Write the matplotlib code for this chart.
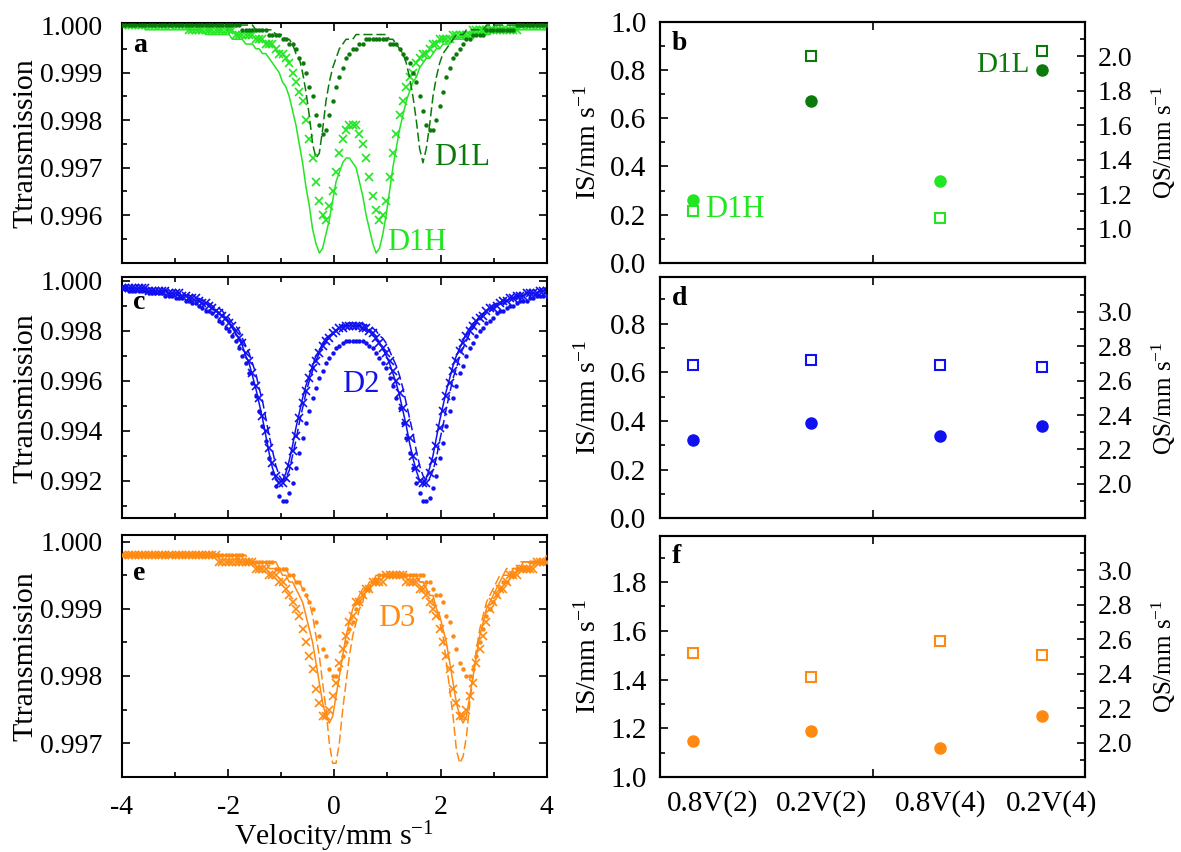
import numpy as np
import matplotlib
matplotlib.use("Agg")
import matplotlib.pyplot as plt
from matplotlib.ticker import FixedLocator, MultipleLocator, FormatStrFormatter

plt.rcParams["font.family"] = ["Liberation Serif", "DejaVu Serif"]
plt.rcParams["mathtext.fontset"] = "custom"
plt.rcParams["mathtext.rm"] = "Liberation Serif"
plt.rcParams["mathtext.it"] = "Liberation Serif:italic"
plt.rcParams["mathtext.bf"] = "Liberation Serif:bold"
plt.rcParams["axes.unicode_minus"] = False

# ---------------------------------------------------------------- data
samples = ["0.8V(2)", "0.2V(2)", "0.8V(4)", "0.2V(4)"]

# hyperfine parameters of the doublets (mm/s)
is_d1h = [0.26, np.nan, 0.34, np.nan]
qs_d1h = [1.10, np.nan, 1.06, np.nan]
is_d1l = [np.nan, 0.67, np.nan, 0.80]
qs_d1l = [np.nan, 2.00, np.nan, 2.03]
is_d2 = [0.32, 0.39, 0.34, 0.38]
qs_d2 = [2.69, 2.72, 2.69, 2.68]
is_d3 = [1.15, 1.19, 1.12, 1.25]
qs_d3 = [2.52, 2.38, 2.59, 2.51]

# line half-widths (mm/s), absorption depths and baselines of the fitted subspectra
hwhm_d1 = [0.38, 0.20, 0.33, 0.29]
depth_d1 = [0.00435, 0.00288, 0.00378, 0.00225]
hwhm_d2 = [0.48, 0.47, 0.48, 0.54]
depth_d2 = [0.00785, 0.00780, 0.00790, 0.00850]
hwhm_d3 = [0.32, 0.27, 0.38, 0.38]
depth_d3 = [0.00251, 0.00313, 0.00240, 0.00181]
baseline = {"D1": 1.00004, "D2": 1.0, "D3": 0.99985}

# velocity channels of the spectrometer (mm/s)
velocity = np.linspace(-4.0, 4.0, 128)

# ---------------------------------------------------------------- style
C_LIGHT = "#22E622"
C_DARK = "#0B7A0B"
C_BLUE = "#1010F0"
C_ORANGE = "#FF8A12"

series_style = [
    dict(ls="-", lw=1.1, marker=None),                    # 0.8V(2)
    dict(ls=(0, (6, 2.5)), lw=1.1, marker=None),          # 0.2V(2)
    dict(ls="none", marker="x", ms=5.2, mew=1.2),         # 0.8V(4)
    dict(ls="none", marker="o", ms=3.2, mew=0),           # 0.2V(4)
]

cat_x = [0.076, 0.354, 0.659, 0.898]      # marker positions (axes units)
label_x = [0.122, 0.379, 0.659, 0.920]    # category label centres


def doublet(v, cs, qs, hw, depth, base):
    """Transmission of a Lorentzian quadrupole doublet, recorded to 4 decimals."""
    absorb = np.zeros_like(v)
    for centre in (cs - qs / 2.0, cs + qs / 2.0):
        absorb += hw ** 2 / ((v - centre) ** 2 + hw ** 2)
    return np.round(base - depth * absorb, 4)


fig = plt.figure(figsize=(11.81, 8.52), dpi=100)

left_boxes = [[0.1033, 0.6913, 0.3596, 0.2821],
              [0.1033, 0.3920, 0.3596, 0.2825],
              [0.1033, 0.0884, 0.3596, 0.2837]]
right_boxes = [[0.5592, 0.6913, 0.3597, 0.2832],
               [0.5592, 0.3917, 0.3597, 0.2828],
               [0.5592, 0.0877, 0.3597, 0.2835]]

# ---------------------------------------------------------------- spectra
is_d1 = np.where(np.isnan(is_d1h), is_d1l, is_d1h)
qs_d1 = np.where(np.isnan(qs_d1h), qs_d1l, qs_d1h)

spectra = [
    ("D1", is_d1, qs_d1, hwhm_d1, depth_d1, [C_LIGHT, C_DARK, C_LIGHT, C_DARK]),
    ("D2", is_d2, qs_d2, hwhm_d2, depth_d2, [C_BLUE] * 4),
    ("D3", is_d3, qs_d3, hwhm_d3, depth_d3, [C_ORANGE] * 4),
]
ylims = [(0.99499, 1.00005), (0.9905, 1.00014), (0.9965, 1.0001)]
ymajor = [[0.996, 0.997, 0.998, 0.999, 1.000],
          [0.992, 0.994, 0.996, 0.998, 1.000],
          [0.997, 0.998, 0.999, 1.000]]
yminor = [0.0005, 0.001, 0.0005]
letters_left = [("a", 0.879), ("c", 0.868), ("e", 0.814)]

left_axes = []
for k, (name, cs, qs, hw, dep, cols) in enumerate(spectra):
    ax = fig.add_axes(left_boxes[k])
    left_axes.append(ax)
    for i in range(4):
        trans = doublet(velocity, cs[i], qs[i], hw[i], dep[i], baseline[name])
        st = series_style[i]
        ax.plot(velocity, trans, color=cols[i], ls=st["ls"],
                lw=st.get("lw", 1.0), marker=st["marker"],
                ms=st.get("ms", 0), mew=st.get("mew", 0), zorder=2 + (i % 2))
    ax.set_xlim(-4, 4)
    ax.set_ylim(*ylims[k])
    ax.yaxis.set_major_locator(FixedLocator(ymajor[k]))
    ax.yaxis.set_minor_locator(MultipleLocator(yminor[k]))
    ax.yaxis.set_major_formatter(FormatStrFormatter("%.3f"))
    ax.xaxis.set_major_locator(MultipleLocator(2))
    ax.xaxis.set_minor_locator(MultipleLocator(1))
    ax.xaxis.set_major_formatter(FormatStrFormatter("%d"))
    ax.tick_params(which="both", direction="in", top=True, right=True, width=1.2)
    ax.tick_params(which="major", length=6)
    ax.tick_params(which="minor", length=3.5)
    ax.tick_params(axis="y", labelsize=20, pad=14)
    ax.tick_params(axis="x", labelsize=20, pad=13)
    for sp in ax.spines.values():
        sp.set_linewidth(1.5)
    ax.set_ylabel("Ttransmission", fontsize=21.5)
    ax.yaxis.set_label_coords(-0.196, 0.5)
    ax.text(0.026, letters_left[k][1], letters_left[k][0], transform=ax.transAxes,
            fontsize=20, fontweight="bold", va="baseline", ha="left")
    if k < 2:
        ax.tick_params(axis="x", labelbottom=False)

left_axes[0].text(1.87, 0.99705, "D1L", color=C_DARK, fontsize=22, va="baseline")
left_axes[0].text(1.00, 0.99526, "D1H", color=C_LIGHT, fontsize=22, va="baseline")
left_axes[1].text(0.14, 0.99556, "D2", color=C_BLUE, fontsize=22, va="baseline")
left_axes[2].text(0.83, 0.99874, "D3", color=C_ORANGE, fontsize=22, va="baseline")
left_axes[2].set_xlabel("Velocity/mm s$^{-1}$", fontsize=21.5)
left_axes[2].xaxis.set_label_coords(0.5, -0.178)

# ---------------------------------------------------------------- parameters
param_sets = [
    [(is_d1h, qs_d1h, C_LIGHT), (is_d1l, qs_d1l, C_DARK)],
    [(is_d2, qs_d2, C_BLUE)],
    [(is_d3, qs_d3, C_ORANGE)],
]
is_lims = [(0.0, 1.0), (0.0, 0.99), (1.0, 1.99)]
is_ticks = [np.arange(0.0, 1.01, 0.2), np.arange(0.0, 0.81, 0.2), np.arange(1.0, 1.81, 0.2)]
qs_lims = [(0.8, 2.2), (1.8, 3.2), (1.8, 3.2)]
qs_ticks = [np.arange(1.0, 2.01, 0.2), np.arange(2.0, 3.01, 0.2), np.arange(2.0, 3.01, 0.2)]
letters_right = [("b", 0.884), ("d", 0.884), ("f", 0.886)]

right_axes = []
for k in range(3):
    ax = fig.add_axes(right_boxes[k])
    ax2 = ax.twinx()
    right_axes.append((ax, ax2))
    for is_vals, qs_vals, col in param_sets[k]:
        ax.plot(cat_x, is_vals, ls="none", marker="o", ms=8, color=col, mec=col)
        ax2.plot(cat_x, qs_vals, ls="none", marker="s", ms=7, mfc="none",
                 mec=col, mew=1.5)
    ax.set_xlim(0, 1)
    ax.set_ylim(*is_lims[k])
    ax2.set_ylim(*qs_lims[k])
    ax.yaxis.set_major_locator(FixedLocator(is_ticks[k]))
    ax.yaxis.set_minor_locator(MultipleLocator(0.1))
    ax.yaxis.set_major_formatter(FormatStrFormatter("%.1f"))
    ax2.yaxis.set_major_locator(FixedLocator(qs_ticks[k]))
    ax2.yaxis.set_minor_locator(MultipleLocator(0.1))
    ax2.yaxis.set_major_formatter(FormatStrFormatter("%.1f"))
    ax.set_xticks(label_x)
    ax.set_xticklabels(samples)
    ax.set_xticks([0.5], minor=True)
    ax.tick_params(axis="x", which="major", length=0, labelsize=21, pad=9)
    ax.tick_params(axis="x", which="minor", direction="in", top=True,
                   bottom=True, length=6, width=1.2)
    ax.tick_params(axis="y", which="both", direction="in", left=True,
                   right=False, width=1.2, labelsize=21, pad=10)
    ax.tick_params(axis="y", which="major", length=6)
    ax.tick_params(axis="y", which="minor", length=3.5)
    ax2.tick_params(axis="y", which="both", direction="in", right=True,
                    width=1.2, labelsize=20, pad=9)
    ax2.tick_params(axis="y", which="major", length=6)
    ax2.tick_params(axis="y", which="minor", length=3.5)
    for a in (ax, ax2):
        for sp in a.spines.values():
            sp.set_linewidth(1.5)
    ax.set_ylabel("IS/mm s$^{-1}$", fontsize=20)
    ax.yaxis.set_label_coords(-0.138, 0.5)
    ax2.set_ylabel("QS/mm s$^{-1}$", fontsize=18)
    ax2.yaxis.set_label_coords(1.152, 0.5)
    ax.text(0.027, letters_right[k][1], letters_right[k][0], transform=ax.transAxes,
            fontsize=20, fontweight="bold", va="baseline", ha="left")
    if k < 2:
        ax.tick_params(axis="x", labelbottom=False)

right_axes[0][0].text(0.104, 0.19, "D1H", color=C_LIGHT, fontsize=22,
                      transform=right_axes[0][0].transAxes, va="baseline")
right_axes[0][0].text(0.870, 0.793, "D1L", color=C_DARK, fontsize=21,
                      transform=right_axes[0][0].transAxes, va="baseline", ha="right")

fig.savefig("out.png", dpi=100)
